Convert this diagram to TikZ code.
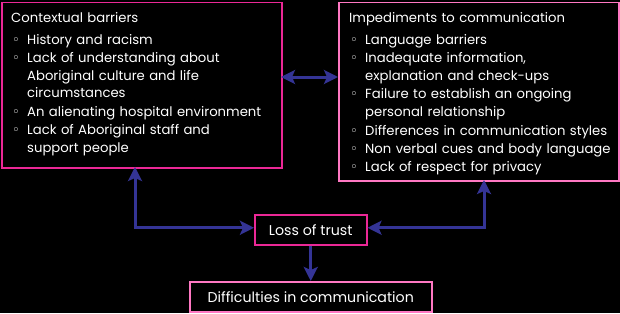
\documentclass[tikz,border=0pt]{standalone}
\usepackage{fontspec}
\setmainfont{Poppins}
\newfontfamily\symf{DejaVu Sans}
\usetikzlibrary{arrows.meta}
\definecolor{pinkA}{RGB}{235,40,150}
\definecolor{pinkB}{RGB}{255,120,195}
\definecolor{arr}{RGB}{52,52,150}
\newcommand\bitem[1]{\par\noindent\makebox[16pt][l]{\hspace*{1pt}{\symf ◦}}\begin{tabular}[t]{@{}l@{}}#1\end{tabular}\par}
\begin{document}
\begin{tikzpicture}[x=1pt,y=-1pt,
  font=\fontsize{13.2}{17.8}\selectfont,
  boxa/.style={draw=pinkA,line width=1.5pt,inner sep=0pt,anchor=north west},
  boxb/.style={draw=pinkB,line width=1.5pt,inner sep=0pt,anchor=north west},
  txt/.style={text=white,inner sep=0pt,anchor=north west,text width=275pt},
  lbl/.style={text=white,inner sep=0pt,font=\fontsize{14.2}{18}\selectfont},
  conn/.style={draw=arr,line width=3pt,{Stealth[length=14pt,width=14pt,inset=3pt]}-{Stealth[length=14pt,width=14pt,inset=3pt]}},
  conn1/.style={draw=arr,line width=3pt,-{Stealth[length=14pt,width=14pt,inset=3pt]}}]
\fill[black] (0,0) rectangle (620,313);
\useasboundingbox (0,0) rectangle (620,313);
\node[boxa,minimum width=280pt,minimum height=165pt] (lb) at (1,2) {};
\node[boxb,minimum width=280pt,minimum height=178pt] (rb) at (338,2) {};
\node[boxa,minimum width=112pt,minimum height=30pt] (loss) at (254,214) {};
\node[boxb,minimum width=242pt,minimum height=30pt] (diff) at (189,281) {};
\node[txt] (lbt) at (11,12) {\noindent Contextual barriers\vspace{4.5pt}
\bitem{History and racism}
\bitem{Lack of understanding about\\Aboriginal culture and life\\circumstances}
\bitem{An alienating hospital environment}
\bitem{Lack of Aboriginal staff and\\support people}};
\node[txt] (rbt) at (349,12) {\noindent Impediments to communication\vspace{4.5pt}
\bitem{Language barriers}
\bitem{Inadequate information,\\explanation and check-ups}
\bitem{Failure to establish an ongoing\\personal relationship}
\bitem{Differences in communication styles}
\bitem{Non verbal cues and body language}
\bitem{Lack of respect for privacy}};
\node[lbl] (losst) at (loss.center) {Loss of trust};
\node[lbl] (difft) at (diff.center) {Difficulties in communication};
\coordinate (lbarr) at (135,167);
\coordinate (rbarr) at (484,180);
\coordinate (lbe) at (281,77);
\coordinate (rbw) at (338,77);
\draw[conn] (lbe) -- (rbw);
\draw[conn] (lbarr) |- ([yshift=2pt]loss.west);
\draw[conn] (rbarr) |- ([yshift=2pt]loss.east);
\draw[conn1] (loss.south) -- (diff.north);
\end{tikzpicture}
\end{document}
